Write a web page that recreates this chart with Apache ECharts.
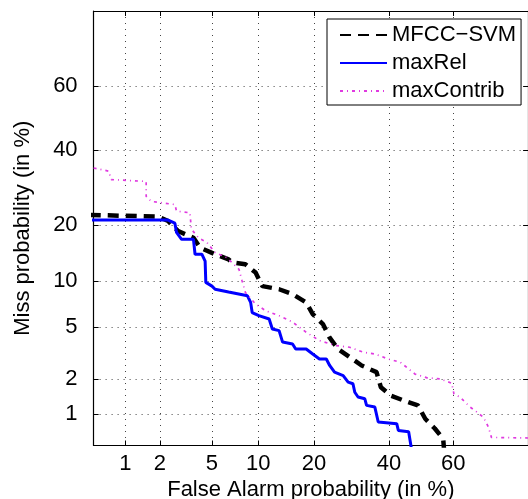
<!DOCTYPE html>
<html>
<head>
<meta charset="utf-8">
<script src="https://cdn.jsdelivr.net/npm/echarts@6/dist/echarts.min.js"></script>
<style>html,body{margin:0;padding:0;background:#fff}#c{width:528px;height:499px}</style>
</head>
<body>
<div id="c"></div>
<script>
// Tick labels (percent)
const tickLabels = [1, 2, 5, 10, 20, 40, 60];
const axisMinPct = 0.5;
const axisMaxPct = 80;

// MFCC-SVM
const mfccFA   = [0.3, 1.93, 2.33, 2.8, 3.67, 4.1, 5.26, 6.5, 6.85, 8.35, 9.65, 10.6, 13.2, 15.6, 18.3, 19.7, 22, 23.6, 25.7, 28.7, 32, 36.3, 37.6, 40.6, 44.7, 49, 51.3, 54.3, 56.9, 57.3];
const mfccMiss = [22.4, 21.9, 20.9, 18.7, 17.3, 15.4, 14.2, 13.3, 12.8, 12.5, 11.2, 9.3, 8.9, 8.3, 7.35, 6.15, 5.25, 4.2, 3.45, 3.0, 2.58, 2.28, 1.71, 1.45, 1.31, 1.19, 0.90, 0.73, 0.58, 0.4];

// maxRel
const relFA   = [0.3, 2.33, 2.64, 2.72, 2.98, 3.67, 3.77, 4.23, 4.47, 4.52, 5.0, 5.26, 6.5, 8.6, 9.0, 9.2, 10.1, 11.6, 12.1, 13.2, 13.8, 15.6, 16.2, 18.3, 19.7, 21.2, 22.8, 23.6, 24.8, 27, 28.3, 29.6, 30.1, 31, 32.9, 33.4, 35.8, 36.8, 42.4, 42.9, 46.1, 47.3];
const relMiss = [21.1, 21.1, 20.4, 18.4, 17.0, 17.0, 14.2, 14.2, 13.0, 9.8, 9.3, 8.9, 8.55, 8.1, 7.35, 6.3, 6.0, 5.7, 4.85, 4.72, 3.9, 3.78, 3.46, 3.46, 3.17, 2.9, 2.9, 2.58, 2.28, 2.14, 1.89, 1.83, 1.55, 1.41, 1.36, 1.19, 1.15, 0.84, 0.81, 0.70, 0.68, 0.4];

// maxContrib
const conFA   = [0.5, 0.70, 0.74, 1.53, 1.53, 1.69, 2.64, 2.72, 3.45, 3.54, 4.0, 4.6, 5.26, 6.33, 7.6, 7.96, 8.35, 9.65, 11.1, 13.2, 15.6, 18.3, 21.2, 25.2, 28.7, 32.5, 35.9, 39.8, 43.5, 48.1, 51.9, 55.9, 59.5, 60.2, 62, 65, 66.9, 68.8, 70.2, 71, 71.5, 90];
const conMiss = [34.7, 33.8, 31.4, 30.9, 26.9, 25.6, 24.8, 23.2, 22.8, 19.1, 17.3, 16.4, 14.5, 13.6, 11.7, 10.0, 8.5, 7.17, 6.47, 6.0, 5.42, 4.6, 4.0, 3.67, 3.57, 3.27, 3.17, 2.9, 2.74, 2.2, 2.05, 2.01, 1.85, 1.5, 1.41, 1.15, 1.04, 0.93, 0.75, 0.6, 0.58, 0.58];

// inverse normal CDF (Acklam) used as the DET axis transform
function probit(pct) {
  const p = pct / 100;
  const a = [-3.969683028665376e+01, 2.209460984245205e+02, -2.759285104469687e+02, 1.383577518672690e+02, -3.066479806614716e+01, 2.506628277459239e+00];
  const b = [-5.447609879822406e+01, 1.615858368580409e+02, -1.556989798598866e+02, 6.680131188771972e+01, -1.328068155288572e+01];
  const c = [-7.784894002430293e-03, -3.223964580411365e-01, -2.400758277161838e+00, -2.549732539343734e+00, 4.374664141464968e+00, 2.938163982698783e+00];
  const d = [7.784695709041462e-03, 3.224671290700398e-01, 2.445134137142996e+00, 3.754408661907416e+00];
  const pl = 0.02425, ph = 1 - pl;
  let q, r;
  if (p < pl) {
    q = Math.sqrt(-2 * Math.log(p));
    return (((((c[0]*q+c[1])*q+c[2])*q+c[3])*q+c[4])*q+c[5]) / ((((d[0]*q+d[1])*q+d[2])*q+d[3])*q+1);
  } else if (p <= ph) {
    q = p - 0.5; r = q * q;
    return (((((a[0]*r+a[1])*r+a[2])*r+a[3])*r+a[4])*r+a[5])*q / (((((b[0]*r+b[1])*r+b[2])*r+b[3])*r+b[4])*r+1);
  } else {
    q = Math.sqrt(-2 * Math.log(1 - p));
    return -(((((c[0]*q+c[1])*q+c[2])*q+c[3])*q+c[4])*q+c[5]) / ((((d[0]*q+d[1])*q+d[2])*q+d[3])*q+1);
  }
}

const tickVals = tickLabels.map(probit);
const zMin = probit(axisMinPct), zMax = probit(axisMaxPct);
function fmt(v) {
  let best = '', bd = 1e9;
  tickLabels.forEach((t, i) => { const dd = Math.abs(tickVals[i] - v); if (dd < bd) { bd = dd; best = String(t); } });
  return best;
}
const toPts = (fa, miss) => fa.map((f, i) => [probit(f), probit(miss[i])]);

const FONT = '"Liberation Sans", Arial, Helvetica, sans-serif';
const gridLine = { show: true, lineStyle: { color: '#444', width: 1, type: [1, 5] } };
const axisCommon = {
  type: 'value', min: zMin, max: zMax,
  axisLine: { show: true, onZero: false, lineStyle: { color: '#000', width: 1.2 } },
  axisTick: { show: true, inside: true, length: 5, customValues: tickVals, lineStyle: { color: '#000', width: 1 } },
  minorTick: { show: false }
};

const chart = echarts.init(document.getElementById('c'), null, { renderer: 'canvas' });
chart.setOption({
  backgroundColor: '#fff',
  animation: false,
  grid: { left: 93.6, top: 11, width: 434.5, height: 434.5, containLabel: false, outerBoundsMode: 'none' },
  xAxis: [
    Object.assign({}, axisCommon, {
      position: 'bottom',
      name: 'False Alarm probability (in %)', nameLocation: 'middle', nameGap: 28,
      nameTextStyle: { fontSize: 22, fontFamily: FONT, color: '#000' },
      axisLabel: { show: true, customValues: tickVals, formatter: fmt, margin: 7, fontSize: 22, fontFamily: FONT, color: '#000' },
      splitLine: gridLine
    }),
    Object.assign({}, axisCommon, {
      position: 'top', axisLabel: { show: false }, splitLine: { show: false }
    })
  ],
  yAxis: [
    Object.assign({}, axisCommon, {
      position: 'left',
      name: 'Miss probability (in %)', nameLocation: 'middle', nameGap: 60,
      nameTextStyle: { fontSize: 22, fontFamily: FONT, color: '#000' },
      axisLabel: { show: true, customValues: tickVals, formatter: fmt, margin: 16, fontSize: 22, fontFamily: FONT, color: '#000' },
      splitLine: gridLine
    }),
    Object.assign({}, axisCommon, {
      position: 'right', axisLabel: { show: false }, splitLine: { show: false }
    })
  ],
  legend: {
    orient: 'vertical', left: 327, top: 19,
    padding: [5, 5, 3, 12], itemGap: 6, itemWidth: 47, itemHeight: 14,
    borderColor: '#000', borderWidth: 1, backgroundColor: '#fff',
    itemStyle: { opacity: 0 },
    textStyle: { fontSize: 22, fontFamily: FONT, color: '#000' },
    data: ['MFCC−SVM', 'maxRel', 'maxContrib']
  },
  series: [
    {
      name: 'MFCC−SVM', type: 'line', data: toPts(mfccFA, mfccMiss),
      symbol: 'none', z: 3,
      lineStyle: { color: '#000', width: 4.5, type: [11, 7], cap: 'butt' },
      itemStyle: { color: '#000' }
    },
    {
      name: 'maxRel', type: 'line', data: toPts(relFA, relMiss),
      symbol: 'none', z: 4,
      lineStyle: { color: '#0000ff', width: 3, type: 'solid' },
      itemStyle: { color: '#0000ff' }
    },
    {
      name: 'maxContrib', type: 'line', data: toPts(conFA, conMiss),
      symbol: 'none', z: 5,
      lineStyle: { color: '#e03ae0', width: 1.7, type: [3, 4, 1, 4] },
      itemStyle: { color: '#e03ae0' }
    }
  ]
});
</script>
</body>
</html>
